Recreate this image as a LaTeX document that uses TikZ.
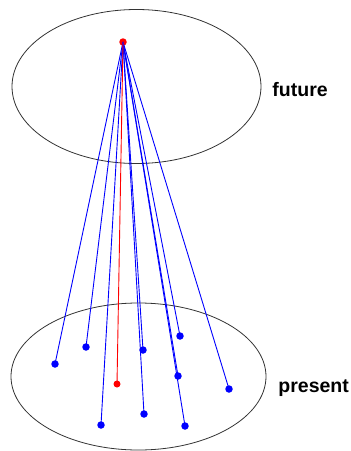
\documentclass[tikz,border=0pt]{standalone}
\usepackage{fontspec}
\setmainfont{Liberation Sans}
\usepackage{tikz}
\usetikzlibrary{positioning}

\tikzset{
  dot/.style={circle, fill=#1, inner sep=0pt, minimum size=7.5pt},
  lbl/.style={font=\fontsize{19.5}{22}\selectfont\bfseries, inner sep=0pt, anchor=base west}
}

\begin{document}
\begin{tikzpicture}[x=1pt, y=-1pt, line width=0.9pt]
            \useasboundingbox (0,0) rectangle (351,451);
            \draw[black!80, line width=0.8pt] (136.5,86.5) ellipse [x radius=124.5, y radius=77];
            \draw[black!80, line width=0.8pt] (138.5,376.5) ellipse [x radius=127.5, y radius=73.5];
            \node[dot=red] (top) at (123,42) {};
            \node[dot=red, minimum size=7pt] (now) at (117,384) {};
            \foreach \name/\px/\py in {p1/55/364, p2/86/347, p3/101/425, p4/143/350, p5/144/414,
                                      p6/180/336, p7/178/376, p8/185/426, p9/229/389} {
              \node[dot=blue] (\name) at (\px,\py) {};
              \draw[blue] (top.center) -- (\name.center);
            }
            \draw[red] (top.center) -- (now.center);
            \node[lbl] (fut) at (272,96) {future};
            \node[lbl] (pres) at (278,392) {present};
        \end{tikzpicture}
\end{document}
